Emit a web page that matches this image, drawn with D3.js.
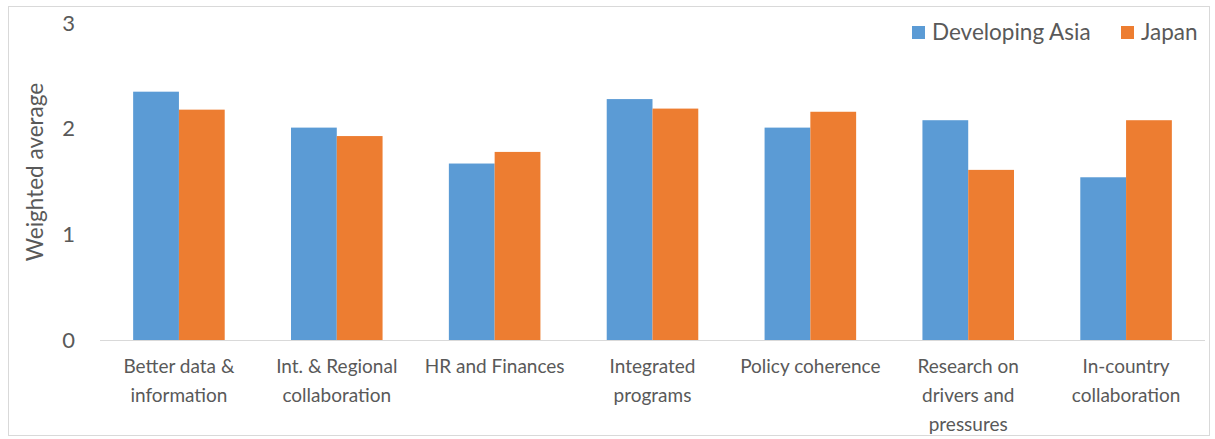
<!DOCTYPE html>
<html lang="en">
<head>
<meta charset="utf-8">
<script src="https://d3js.org/d3.v7.min.js"></script>
<style>
  body { margin: 0; background: #fff; }
  text { font-family: Lato, "Open Sans", sans-serif; fill: #595959; }
</style>
</head>
<body>
<div id="chart"></div>
<script>
// categories and series
const categories = [
  ["Better data &", "information"],
  ["Int. & Regional", "collaboration"],
  ["HR and Finances"],
  ["Integrated", "programs"],
  ["Policy coherence"],
  ["Research on", "drivers and", "pressures"],
  ["In-country", "collaboration"]
];
const developingAsia = [2.35, 2.01, 1.67, 2.28, 2.01, 2.08, 1.54];
const japan = [2.18, 1.93, 1.78, 2.19, 2.16, 1.61, 2.08];
const seriesNames = ["Developing Asia", "Japan"];
const colors = ["#5B9BD5", "#ED7D31"];
const yTicks = [0, 1, 2, 3];

const width = 1215, height = 439;
const margin = {left: 100, right: 10, top: 23, bottom: 99};

const svg = d3.select("#chart").append("svg")
  .attr("width", width).attr("height", height);

// outer border like the office chart frame
svg.append("rect")
  .attr("x", 8.5).attr("y", 6.5)
  .attr("width", width - 14).attr("height", height - 10)
  .attr("fill", "none").attr("stroke", "#d9d9d9");

const x = d3.scaleBand()
  .domain(d3.range(categories.length))
  .range([margin.left, width - margin.right])
  .paddingInner(0.42).paddingOuter(0.21);

const xSub = d3.scaleBand().domain([0, 1]).range([0, x.bandwidth()]);

const y = d3.scaleLinear().domain([0, 3]).range([height - margin.bottom, margin.top]);

// bars
const rows = categories.map((c, i) => [developingAsia[i], japan[i]]);
const groups = svg.append("g").selectAll("g")
  .data(rows).join("g")
  .attr("transform", (d, i) => `translate(${x(i)},0)`);

groups.selectAll("rect")
  .data(d => d)
  .join("rect")
  .attr("x", (d, j) => xSub(j))
  .attr("width", xSub.bandwidth())
  .attr("y", d => y(d))
  .attr("height", d => y(0) - y(d))
  .attr("fill", (d, j) => colors[j]);

// x axis line
svg.append("line")
  .attr("x1", margin.left).attr("x2", width - margin.right)
  .attr("y1", y(0) + 0.5).attr("y2", y(0) + 0.5)
  .attr("stroke", "#d9d9d9").attr("stroke-width", 1);

// y axis tick labels
const yAxis = svg.append("g")
  .attr("transform", `translate(${margin.left - 22},0)`)
  .call(d3.axisLeft(y).tickValues(yTicks).tickSize(0).tickFormat(d3.format("d")));
yAxis.select(".domain").remove();
yAxis.selectAll("text")
  .attr("font-size", 22)
  .attr("font-family", null)
  .attr("fill", "#595959");

// category labels
const cat = svg.append("g").selectAll("text")
  .data(categories).join("text")
  .attr("x", (d, i) => x(i) + x.bandwidth() / 2)
  .attr("y", y(0) + 33)
  .attr("text-anchor", "middle")
  .attr("font-size", 19);
cat.selectAll("tspan")
  .data(d => d).join("tspan")
  .attr("x", function () { return this.parentNode.getAttribute("x"); })
  .attr("dy", (d, i) => i === 0 ? 0 : 29)
  .text(d => d);

// y axis title
svg.append("text")
  .attr("transform", `translate(43,172) rotate(-90)`)
  .attr("text-anchor", "middle")
  .attr("font-size", 22.5)
  .text("Weighted average");

// legend
const legendX = [912, 1121];
const legend = svg.append("g").selectAll("g")
  .data(seriesNames).join("g")
  .attr("transform", (d, i) => `translate(${legendX[i]},26)`);
legend.append("rect")
  .attr("width", 13).attr("height", 13)
  .attr("fill", (d, i) => colors[i]);
legend.append("text")
  .attr("x", 20).attr("y", 14)
  .attr("font-size", 22.5)
  .text(d => d);
</script>
</body>
</html>
